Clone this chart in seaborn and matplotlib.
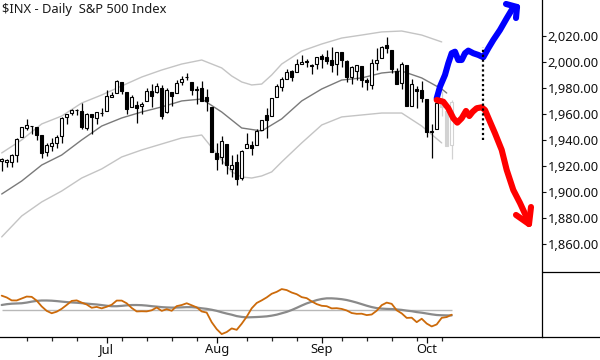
import matplotlib
matplotlib.use("Agg")
import matplotlib.pyplot as plt
from matplotlib.lines import Line2D
import numpy as np
import pandas as pd
import seaborn as sns

sns.set_style("white")
plt.rcParams['font.family'] = ['Noto Sans', 'DejaVu Sans']

# S&P 500 daily bars, 2 Jun - 8 Oct 2014
dates = pd.bdate_range('2014-06-02', '2014-10-08', freq='C',
                       holidays=['2014-07-04', '2014-09-01'])

opens = [1923.87, 1923.07, 1923.06, 1928.52, 1942.41, 1948.97, 1950.34, 1949.37, 1943.35, 1930.80,
         1934.84, 1937.15, 1942.73, 1957.50, 1960.45, 1962.92, 1961.97, 1949.27, 1959.89, 1956.56,
         1960.79, 1962.29, 1973.06, 1975.88, 1984.22, 1976.39, 1965.10, 1966.67, 1965.76, 1969.86,
         1977.36, 1976.35, 1979.75, 1961.54, 1976.93, 1975.65, 1984.60, 1988.07, 1984.60, 1978.25,
         1980.03, 1973.21, 1965.14, 1929.80, 1926.62, 1936.34, 1917.29, 1923.03, 1910.35, 1933.43,
         1935.73, 1935.60, 1947.41, 1958.87, 1958.36, 1972.73, 1980.46, 1986.82, 1992.60, 1991.74,
         1998.59, 2000.54, 1997.42, 1998.45, 2004.07, 2003.57, 2001.67, 1998.00, 2007.17, 2000.73,
         1988.41, 1992.85, 1996.74, 1986.04, 1981.93, 1999.30, 2003.07, 2012.74, 2009.08, 1992.78,
         1983.34, 1997.32, 1966.22, 1978.96, 1978.21, 1971.44, 1945.83, 1948.12, 1970.01, 1962.36,
         1935.55]
highs = [1925.88, 1925.07, 1928.63, 1941.15, 1949.44, 1955.55, 1950.86, 1949.37, 1943.35, 1937.30,
         1941.15, 1943.69, 1957.74, 1959.87, 1963.91, 1963.74, 1968.17, 1960.83, 1959.89, 1961.47,
         1964.24, 1978.58, 1976.67, 1985.59, 1984.22, 1976.39, 1974.15, 1969.84, 1968.67, 1979.85,
         1982.52, 1983.94, 1981.80, 1979.91, 1976.93, 1986.24, 1989.23, 1991.39, 1984.60, 1981.52,
         1984.85, 1978.90, 1965.14, 1937.35, 1942.92, 1936.34, 1927.91, 1928.89, 1932.38, 1944.90,
         1939.20, 1948.41, 1955.23, 1964.04, 1971.99, 1982.57, 1988.57, 1994.76, 1993.54, 2001.95,
         2005.04, 2002.14, 1998.55, 2003.38, 2006.12, 2009.28, 2011.17, 2007.71, 2007.17, 2001.01,
         1996.66, 1997.65, 1996.74, 1987.18, 2002.28, 2010.74, 2012.34, 2019.26, 2009.08, 1995.41,
         1999.79, 1997.32, 1986.37, 1981.28, 1985.17, 1971.44, 1952.32, 1971.19, 1977.37, 1962.36,
         1970.36]
lows = [1915.98, 1918.79, 1918.60, 1922.93, 1942.41, 1947.16, 1944.64, 1940.08, 1925.78, 1927.69,
        1930.91, 1933.55, 1937.46, 1952.26, 1959.17, 1958.89, 1948.34, 1947.49, 1944.69, 1952.18,
        1958.22, 1962.29, 1972.58, 1975.88, 1974.88, 1959.46, 1965.10, 1952.86, 1959.63, 1969.86,
        1965.34, 1975.67, 1955.59, 1960.82, 1965.77, 1975.65, 1982.44, 1985.79, 1974.37, 1967.31,
        1969.95, 1962.42, 1930.67, 1916.37, 1921.20, 1913.77, 1911.45, 1904.78, 1909.01, 1933.43,
        1928.29, 1935.60, 1947.41, 1941.50, 1958.36, 1972.73, 1977.68, 1986.82, 1984.76, 1991.74,
        1998.59, 1996.20, 1990.52, 1994.65, 1994.85, 1998.14, 1992.44, 1990.10, 1995.60, 1984.61,
        1982.99, 1985.93, 1980.26, 1978.48, 1979.06, 1993.29, 2003.07, 2006.59, 1991.01, 1982.77,
        1978.63, 1965.99, 1966.22, 1964.04, 1968.96, 1941.72, 1926.03, 1948.12, 1958.43, 1935.10,
        1925.25]
closes = [1924.97, 1924.24, 1927.88, 1940.46, 1949.44, 1951.27, 1950.79, 1943.89, 1930.11, 1936.16,
          1937.78, 1941.99, 1956.98, 1959.48, 1962.87, 1962.61, 1949.98, 1959.53, 1957.22, 1960.96,
          1960.23, 1973.32, 1974.62, 1985.44, 1977.65, 1963.71, 1972.83, 1964.68, 1967.57, 1977.10,
          1973.28, 1981.57, 1958.12, 1978.22, 1973.63, 1983.53, 1987.01, 1987.98, 1978.34, 1978.91,
          1969.95, 1970.07, 1930.67, 1925.15, 1938.99, 1920.21, 1920.24, 1909.57, 1931.59, 1936.92,
          1933.75, 1946.72, 1955.18, 1955.06, 1971.74, 1981.60, 1986.51, 1992.37, 1988.40, 1997.92,
          2000.02, 2000.12, 1996.74, 2003.37, 2002.28, 2000.72, 1997.65, 2007.71, 2001.54, 1988.44,
          1995.69, 1997.45, 1985.54, 1984.13, 1998.98, 2001.57, 2011.36, 2010.40, 1994.29, 1982.77,
          1998.30, 1965.99, 1982.85, 1977.80, 1972.29, 1946.16, 1946.17, 1967.90, 1964.82, 1935.10,
          1968.89]

# closes from the weeks before the window (seed for the 3/10 oscillator)
hist_close = [1869.43, 1878.33, 1883.95, 1883.68, 1881.14, 1884.66, 1867.72, 1878.21,
              1875.63, 1878.48, 1896.65, 1897.45, 1888.53, 1870.85, 1877.86, 1885.08,
              1872.83, 1888.03, 1892.49, 1900.53, 1911.91, 1909.78, 1920.03, 1923.57]

# channel lines, (bar number, price)
upper_x = [0, 4, 8, 12, 16, 20, 24, 28, 32, 36, 40, 44, 46, 48, 50, 52, 54, 56, 60, 64,
           68, 72, 76, 80, 84, 88]
upper_y = [1929.8, 1939.8, 1952.1, 1958.2, 1968.2, 1974.4, 1981.3, 1988.2, 1993.6, 1998.2,
           2001.3, 1995.2, 1989.0, 1984.4, 1982.1, 1982.8, 1989.8, 1998.2, 2008.2, 2013.6,
           2018.2, 2020.5, 2022.9, 2023.6, 2020.5, 2015.2]
mid_x = [0, 4, 8, 12, 16, 20, 24, 28, 32, 36, 40, 44, 48, 52, 56, 60, 64, 68, 72, 76,
         80, 84, 88, 89]
mid_y = [1898.2, 1908.2, 1920.5, 1928.2, 1939.8, 1950.5, 1956.7, 1961.3, 1965.2, 1969.8,
         1971.3, 1961.3, 1949.0, 1946.7, 1956.0, 1969.8, 1979.0, 1985.9, 1987.5, 1991.3,
         1992.8, 1987.5, 1979.0, 1975.9]
lower_x = [0, 4, 8, 12, 16, 20, 24, 28, 32, 36, 40, 44, 46, 48, 50, 52, 54, 56, 60, 64,
           68, 72, 76, 80, 84, 88]
lower_y = [1865.2, 1881.3, 1892.1, 1900.5, 1910.5, 1917.5, 1926.7, 1932.1, 1936.7, 1941.3,
           1943.6, 1924.4, 1915.2, 1911.3, 1910.5, 1912.1, 1915.2, 1922.9, 1937.5, 1951.3,
           1957.5, 1959.0, 1960.5, 1960.5, 1950.5, 1937.5]

# bars from this one on are greyed out in the original
n_live = 88

price_ticks = [1860, 1880, 1900, 1920, 1940, 1960, 1980, 2000, 2020]

# hand drawn scenarios, (bar number, price)
up_x = [87.0, 87.66, 88.66, 89.32, 90.0, 90.66, 91.32, 92.0, 92.66, 93.32, 94.32, 95.32,
        96.32, 97.32, 98.32, 99.66, 101.0, 102.0, 103.06]
up_y = [1971.8, 1980.8, 1989.8, 1998.8, 2006.5, 2007.7, 2001.3, 2001.3, 2006.5, 2008.5,
        2006.5, 2005.2, 2003.4, 2010.3, 2016.7, 2024.4, 2033.4, 2039.8, 2042.1]
up_head_x = [100.86, 103.06, 102.86]
up_head_y = [2044.4, 2042.1, 2033.6]

down_x = [87.0, 88.32, 89.32, 90.32, 91.12, 92.0, 92.86, 93.52, 94.2, 95.0, 96.0, 96.66,
          97.66, 98.66, 100.0, 101.0, 102.32, 103.66, 104.86, 105.46]
down_y = [1970.5, 1969.2, 1964.2, 1956.5, 1953.1, 1956.5, 1962.1, 1958.2, 1961.5, 1964.2,
          1964.9, 1962.8, 1953.8, 1944.9, 1932.1, 1916.7, 1901.3, 1891.3, 1881.3, 1875.1]
down_head_x = [102.86, 105.46, 105.86]
down_head_y = [1882.1, 1875.1, 1888.2]

pivot_x = 96.32
pivot_lo, pivot_hi = 1939.8, 2011.3

df = pd.DataFrame({'date': dates, 'open': opens, 'high': highs, 'low': lows, 'close': closes})
df['x'] = np.arange(len(df))

# 3/10 oscillator with its 16 period average
all_close = pd.Series(hist_close + closes)
osc = all_close.rolling(3).mean() - all_close.rolling(10).mean()
sig = osc.rolling(16).mean()
k = len(hist_close)
df['osc'] = osc.values[k:]
df['sig'] = sig.values[k:]

fig = plt.figure(figsize=(6, 3.6), dpi=100)
W, H = 600, 360
ax = fig.add_axes([0, 1 - 272 / H, 542 / W, 272 / H])
ax2 = fig.add_axes([0, 1 - 337 / H, 542 / W, 65 / H])
xlim = (-0.34, 108.06)

# channel
sns.lineplot(x=upper_x, y=upper_y, ax=ax, color='#c4c4c4', lw=1.0, zorder=1)
sns.lineplot(x=lower_x, y=lower_y, ax=ax, color='#c4c4c4', lw=1.0, zorder=1)
sns.lineplot(x=mid_x, y=mid_y, ax=ax, color='#7a7a7a', lw=1.0, zorder=1)

# candles
live = df.x < n_live
rising = df.close >= df.open
ec = np.where(live, 'black', '#d2d2d2')
fc = np.where(rising, 'white', ec)
ax.vlines(df.x, df.low, df.high, colors=ec, lw=0.9, zorder=2)
body = (df.close - df.open).abs().clip(lower=0.5)
ax.bar(df.x, body, bottom=df[['open', 'close']].min(axis=1), width=0.6,
       color=fc, edgecolor=ec, linewidth=0.8, zorder=3)

# scenarios
line_kw = dict(lw=4.4, solid_capstyle='round', solid_joinstyle='round', zorder=5,
               sort=False, estimator=None)
sns.lineplot(x=up_x, y=up_y, ax=ax, color='#0000ff', **line_kw)
sns.lineplot(x=up_head_x, y=up_head_y, ax=ax, color='#0000ff', **line_kw)
sns.lineplot(x=down_x, y=down_y, ax=ax, color='#ff0000', **line_kw)
sns.lineplot(x=down_head_x, y=down_head_y, ax=ax, color='#ff0000', **line_kw)
ax.vlines(pivot_x, pivot_lo, pivot_hi, colors='black', linestyles=(0, (1, 1.2)), lw=1.6, zorder=6)

ax.set_xlim(*xlim)
ax.set_ylim(1838.2, 2047.46)
ax.yaxis.tick_right()
ax.set_yticks(price_ticks)
ax.set_yticklabels([f'{v:,.2f}' for v in price_ticks])
ax.tick_params(axis='y', direction='out', length=3, width=0.8, pad=1, labelsize=9.3,
               colors='#111111', right=True, left=False)
ax.set_xticks([])
ax.set_xlabel('')
ax.set_ylabel('')
for s in ['top', 'left', 'bottom']:
    ax.spines[s].set_visible(False)
ax.spines['right'].set_color('black')
ax.spines['right'].set_linewidth(0.9)

fig.text(2 / W, 1 - 3 / H, r'\$INX - Daily  S&P 500 Index', ha='left', va='top',
         fontsize=9.3, color='#1a1a1a')

# oscillator panel
ax2.hlines(0, df.x.iloc[0], df.x.iloc[-1], colors='#b8b8b8', lw=1.0, zorder=1)
sns.lineplot(x=df.x, y=df.sig, ax=ax2, color='#8a8a8a', lw=1.6, zorder=2)
sns.lineplot(x=df.x, y=df.osc, ax=ax2, color='#cc6a0a', lw=1.3, zorder=3)
ax2.set_xlim(*xlim)
ax2.set_ylim(-37.5, 52.8)
ax2.set_yticks([])
ax2.set_xlabel('')
ax2.set_ylabel('')

month_first = df.groupby(df.date.dt.to_period('M')).x.min()
month_first = month_first[month_first > 0]
mondays = df.x[df.date.dt.dayofweek == 0]
minor = [m for m in mondays if min(abs(m - f) for f in [0] + list(month_first)) > 1]
ax2.set_xticks(month_first.values)
ax2.set_xticklabels(df.date[month_first.values].dt.strftime('%b'))
ax2.set_xticks(minor, minor=True)
ax2.tick_params(axis='x', which='major', direction='out', length=4.5, width=0.9, pad=0,
                labelsize=9.3, colors='#111111', bottom=True)
ax2.tick_params(axis='x', which='minor', direction='out', length=3, width=0.9, bottom=True)
for s in ['top', 'left']:
    ax2.spines[s].set_visible(False)
for s in ['right', 'bottom']:
    ax2.spines[s].set_color('black')
    ax2.spines[s].set_linewidth(0.9)

# axis rules on the price-scale side
fig.add_artist(Line2D([542 / W, 1], [1 - 337 / H, 1 - 337 / H], color='black', lw=0.9))
fig.add_artist(Line2D([542 / W, 1], [1 - 272 / H, 1 - 272 / H], color='black', lw=0.9))

fig.savefig('out.png', dpi=100)
